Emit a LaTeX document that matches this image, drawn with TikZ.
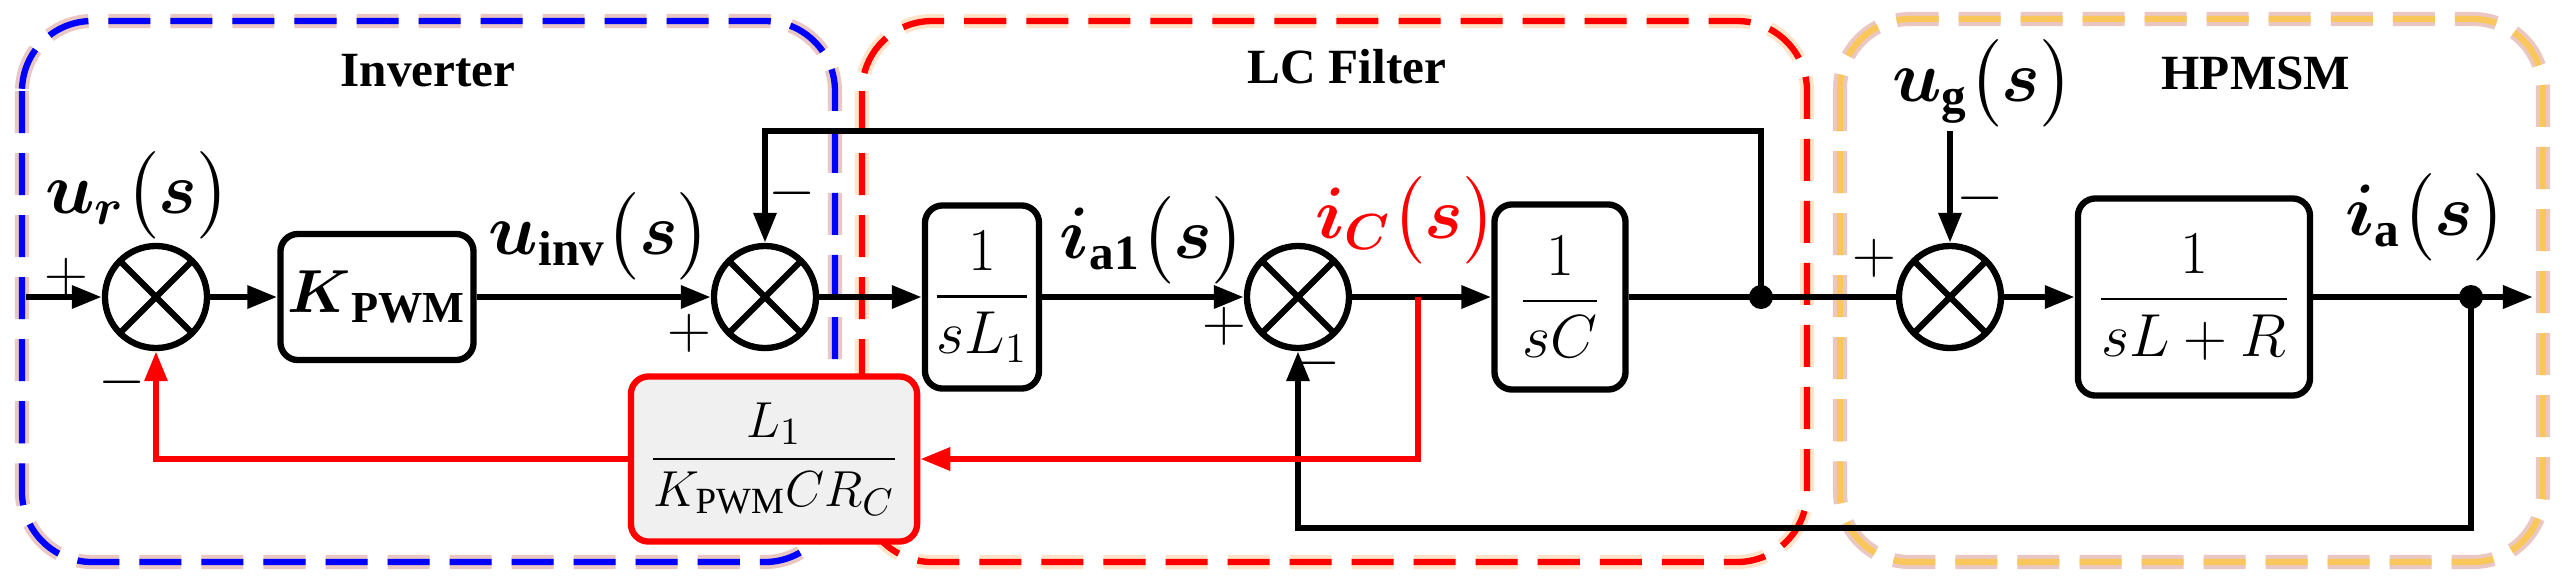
\documentclass[tikz,border=0pt]{standalone}
\usepackage{amsmath}
\usepackage{fontspec}
\setmainfont{Liberation Serif}
\usepackage{tikz}
\usetikzlibrary{arrows.meta}
\definecolor{cglow}{RGB}{225,175,170}
\definecolor{cgold}{RGB}{250,200,90}
\definecolor{cfb}{RGB}{240,240,240}

\begin{document}
\begin{tikzpicture}[x=0.01cm, y=-0.01cm,
      blk/.style={draw, rounded corners=5pt, line width=1.8pt, align=center, inner sep=2pt,
                  font=\fontsize{18}{21}\selectfont},
      sumnode/.style={circle, draw, line width=1.8pt, minimum size=1.02cm, inner sep=0pt,
                  path picture={\draw[line width=1.8pt] (path picture bounding box.south west) -- (path picture bounding box.north east)
                                (path picture bounding box.north west) -- (path picture bounding box.south east);}},
      >={Triangle[length=0.3cm, width=0.22cm]},
      arr/.style={->, line width=1.8pt},
      redarr/.style={->, line width=1.8pt, red},
      sig/.style={font=\fontsize{17}{20}\selectfont},
      big/.style={font=\fontsize{20}{24}\selectfont\boldmath},
      ttl/.style={font=\fontsize{14}{16}\selectfont\bfseries},
      glow/.style={line width=4pt, cglow, opacity=0.7, rounded corners=0.7cm, dash pattern=on 0.42cm off 0.2cm},
      frame/.style={line width=1.8pt, rounded corners=0.7cm, dash pattern=on 0.42cm off 0.2cm}
    ]
    \useasboundingbox (0,0) rectangle (2562,587);
    % group frames
    \draw[glow] (22,21) rectangle (835,562);
    \draw[frame, blue] (22,21) rectangle (835,562);
    \draw[line width=4pt, orange!30, opacity=0.7, rounded corners=0.7cm, dash pattern=on 0.42cm off 0.2cm] (862,21) rectangle (1807,562);
    \draw[frame, red] (862,21) rectangle (1807,562);
    \draw[glow] (1840,19) rectangle (2543,562);
    \draw[frame, cgold] (1840,19) rectangle (2543,562);
    \node[ttl] (tinv) at (428,71) {Inverter};
    \node[ttl] (tlc) at (1347,67) {LC Filter};
    \node[ttl] (tpm) at (2256,73) {HPMSM};

    % blocks
    \node[sumnode] (s1) at (156,297) {};
    \node[blk, minimum width=1.93cm, minimum height=1.26cm] (kp) at (377,297) {$\boldsymbol{K}_{\mathbf{PWM}}$};
    \node[sumnode] (s2) at (765,297) {};
    \node[blk, minimum width=1.14cm, minimum height=1.83cm] (l1) at (982,297) {$\dfrac{1}{sL_1}$};
    \node[sumnode] (s3) at (1298,297) {};
    \node[blk, minimum width=1.31cm, minimum height=1.85cm] (c) at (1560,297) {$\dfrac{1}{sC}$};
    \node[sumnode] (s4) at (1950,297) {};
    \node[blk, minimum width=2.32cm, minimum height=1.97cm] (z) at (2194,297) {$\dfrac{1}{sL+R}$};
    \node[blk, draw=red, fill=cfb, minimum width=2.86cm, minimum height=1.65cm, font=\fontsize{15}{18}\selectfont] (fb) at (774,459) {$\dfrac{L_1}{K_{\mathrm{PWM}}CR_C}$};

    % signals
    \node[big] (ur) at (138,195) {$u_r\bigl(s\bigr)$};
    \node[big] (uinv) at (600,236) {$u_{\mathrm{inv}}\bigl(s\bigr)$};
    \node[big] (ia1) at (1153,240) {$i_{\mathrm{a1}}\bigl(s\bigr)$};
    \node[big, red] (ic) at (1406,220) {$i_C\bigl(s\bigr)$};
    \node[big] (ug) at (1983,83) {$u_{\mathrm{g}}\bigl(s\bigr)$};
    \node[big] (ia) at (2426,217) {$i_{\mathrm{a}}\bigl(s\bigr)$};

    \node[sig] (p1) at (66,277) {$+$};
    \node[sig] (m1) at (122,382) {$-$};
    \node[sig] (p2) at (689,333) {$+$};
    \node[sig] (m2) at (792,193) {$-$};
    \node[sig] (p3) at (1224,326) {$+$};
    \node[sig] (m3) at (1317,363) {$-$};
    \node[sig] (p4) at (1874,258) {$+$};
    \node[sig] (m4) at (1980,198) {$-$};

    \coordinate (in) at (26,297);
    \coordinate (tap) at (1418,297);
    \coordinate (j1) at (1761,297);
    \coordinate (t) at (1761,131);
    \coordinate (j2) at (2471,297);
    \coordinate (b) at (2471,528);
    \coordinate (g) at (1950,131);
    \coordinate (out) at (2533,297);

    % connectors
    \draw[arr] (in) -- (s1);
    \draw[arr] (s1) -- (kp);
    \draw[arr] (kp) -- (s2);
    \draw[arr] (s2) -- (l1);
    \draw[arr] (l1) -- (s3);
    \draw[arr] (s3) -- (c);
    \draw[line width=1.8pt] (c) -- (s4);
    \draw[arr] (s4) -- (z);
    \draw[arr] (z) -- (out);
    \draw[arr] (j1) -- (t) -| (s2);
    \draw[arr] (j2) -- (b) -| (s3);
    \draw[arr] (g) -- (s4);
    \draw[redarr] (tap) |- (fb);
    \draw[redarr] (fb) -| (s1);
    \fill (j1) circle (0.12cm);
    \fill (j2) circle (0.12cm);
  \end{tikzpicture}
\end{document}
